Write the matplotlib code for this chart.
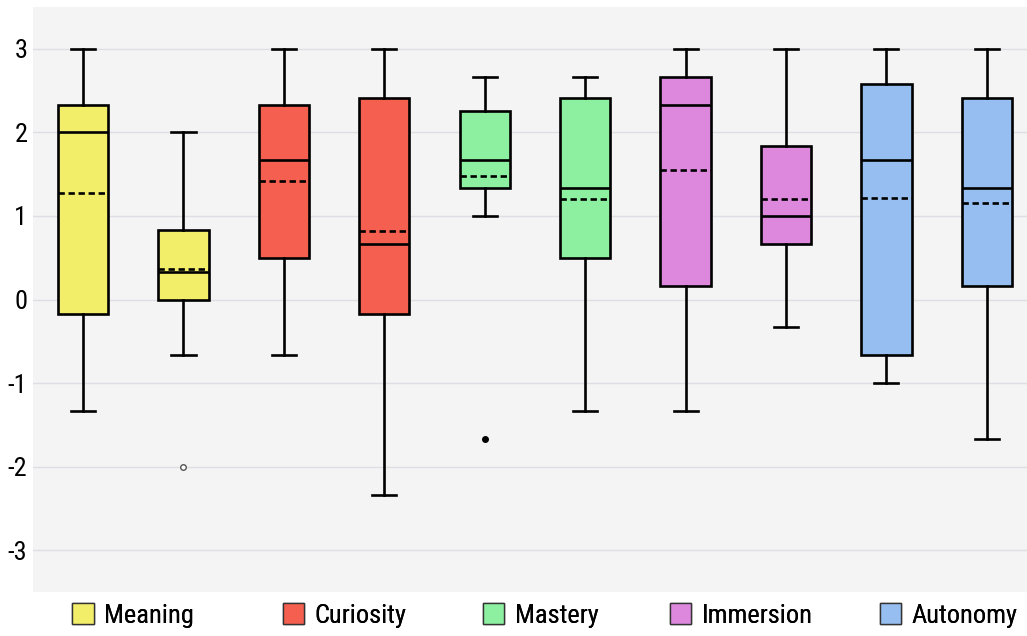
import matplotlib
matplotlib.use("Agg")
import matplotlib.pyplot as plt
from matplotlib.patches import Patch
from matplotlib import font_manager

# Prefer a narrow sans face when one is available
fams = {}
for f in font_manager.fontManager.ttflist:
    fams.setdefault(f.name, set()).add(str(f.stretch))
chosen, stretch = "DejaVu Sans", "normal"
for name in ["Liberation Sans Narrow", "Roboto Condensed", "Open Sans Condensed",
             "DejaVu Sans Condensed", "Noto Sans Condensed"]:
    if name in fams:
        chosen, stretch = name, "normal"
        break
else:
    for name in ["DejaVu Sans", "Noto Sans", "Open Sans", "Roboto"]:
        if name in fams and any(s in ("condensed", "semi-condensed", "extra-condensed", "400", "300")
                                for s in fams[name]):
            chosen, stretch = name, "condensed"
            break
plt.rcParams["font.family"] = [chosen, "DejaVu Sans"]
plt.rcParams["font.stretch"] = stretch
plt.rcParams["axes.unicode_minus"] = False

groups = ["Meaning", "Curiosity", "Mastery", "Immersion", "Autonomy"]
group_colors = ["#F3EE6A", "#F55F4F", "#8CF0A0", "#DD88DD", "#96BEF0"]

# Per-box summary statistics (two boxes per group)
whislo = [-1.333, -0.667, -0.667, -2.333, 1.0, -1.333, -1.333, -0.333, -1.0, -1.667]
q1     = [-0.167, 0.0, 0.5, -0.167, 1.333, 0.5, 0.167, 0.667, -0.667, 0.167]
med    = [2.0, 0.333, 1.667, 0.667, 1.667, 1.333, 2.333, 1.0, 1.667, 1.333]
mean   = [1.28, 0.37, 1.42, 0.82, 1.48, 1.2, 1.55, 1.2, 1.22, 1.15]
q3     = [2.333, 0.833, 2.333, 2.417, 2.25, 2.417, 2.667, 1.833, 2.583, 2.417]
whishi = [3.0, 2.0, 3.0, 3.0, 2.667, 2.667, 3.0, 3.0, 3.0, 3.0]
fliers = [[], [-2.0], [], [], [-1.667], [], [], [], [], []]

stats = []
for i in range(10):
    stats.append(dict(whislo=whislo[i], q1=q1[i], med=med[i], mean=mean[i],
                      q3=q3[i], whishi=whishi[i], fliers=fliers[i]))

fig = plt.figure(figsize=(10.27, 6.36), dpi=100)
ax = fig.add_axes([0.032, 0.069, 0.968, 0.92])
ax.set_facecolor("#F4F4F4")

lw = 1.9
bp = ax.bxp(stats, positions=range(10), widths=0.5, patch_artist=True,
            showmeans=True, meanline=True, showfliers=True,
            boxprops=dict(linewidth=lw, edgecolor="black"),
            medianprops=dict(color="black", linewidth=lw),
            meanprops=dict(color="black", linewidth=lw, linestyle=(0, (2.4, 1.4))),
            whiskerprops=dict(color="black", linewidth=lw),
            capprops=dict(color="black", linewidth=lw),
            capwidths=0.24)
for i, box in enumerate(bp["boxes"]):
    box.set_facecolor(group_colors[i // 2])
    box.set_zorder(2)
# outliers: open grey circle for the first, filled dot for the second
bp["fliers"][1].set(marker="o", markersize=4, markerfacecolor="white",
                    markeredgecolor="#555555", markeredgewidth=1)
bp["fliers"][4].set(marker="o", markersize=4, markerfacecolor="black",
                    markeredgecolor="black")

ax.set_xlim(-0.5, 9.4)
ax.set_ylim(-3.5, 3.5)
ax.set_yticks([-3, -2, -1, 0, 1, 2, 3])
ax.set_yticklabels(["-3", "-2", "-1", "0", "1", "2", "3"])
ax.tick_params(axis="y", length=0, labelsize=19, pad=4)
ax.set_xticks([])
ax.grid(axis="y", color="#DEDEE4", linewidth=1)
ax.set_axisbelow(True)
for s in ax.spines.values():
    s.set_visible(False)

# legend entries laid out along the bottom edge
legend_x = [0.0645, 0.2695, 0.4645, 0.6465, 0.8505]
for name, color, x0 in zip(groups, group_colors, legend_x):
    leg = fig.legend([Patch(facecolor=color, edgecolor="#333333", linewidth=1)], [name],
                     loc="lower left", bbox_to_anchor=(x0 - 0.012, -0.016),
                     frameon=False, fontsize=19, handlelength=0.8, handleheight=0.8,
                     handletextpad=0.4, borderaxespad=0.3)
    fig.add_artist(leg)

fig.savefig("out.png", dpi=100)
